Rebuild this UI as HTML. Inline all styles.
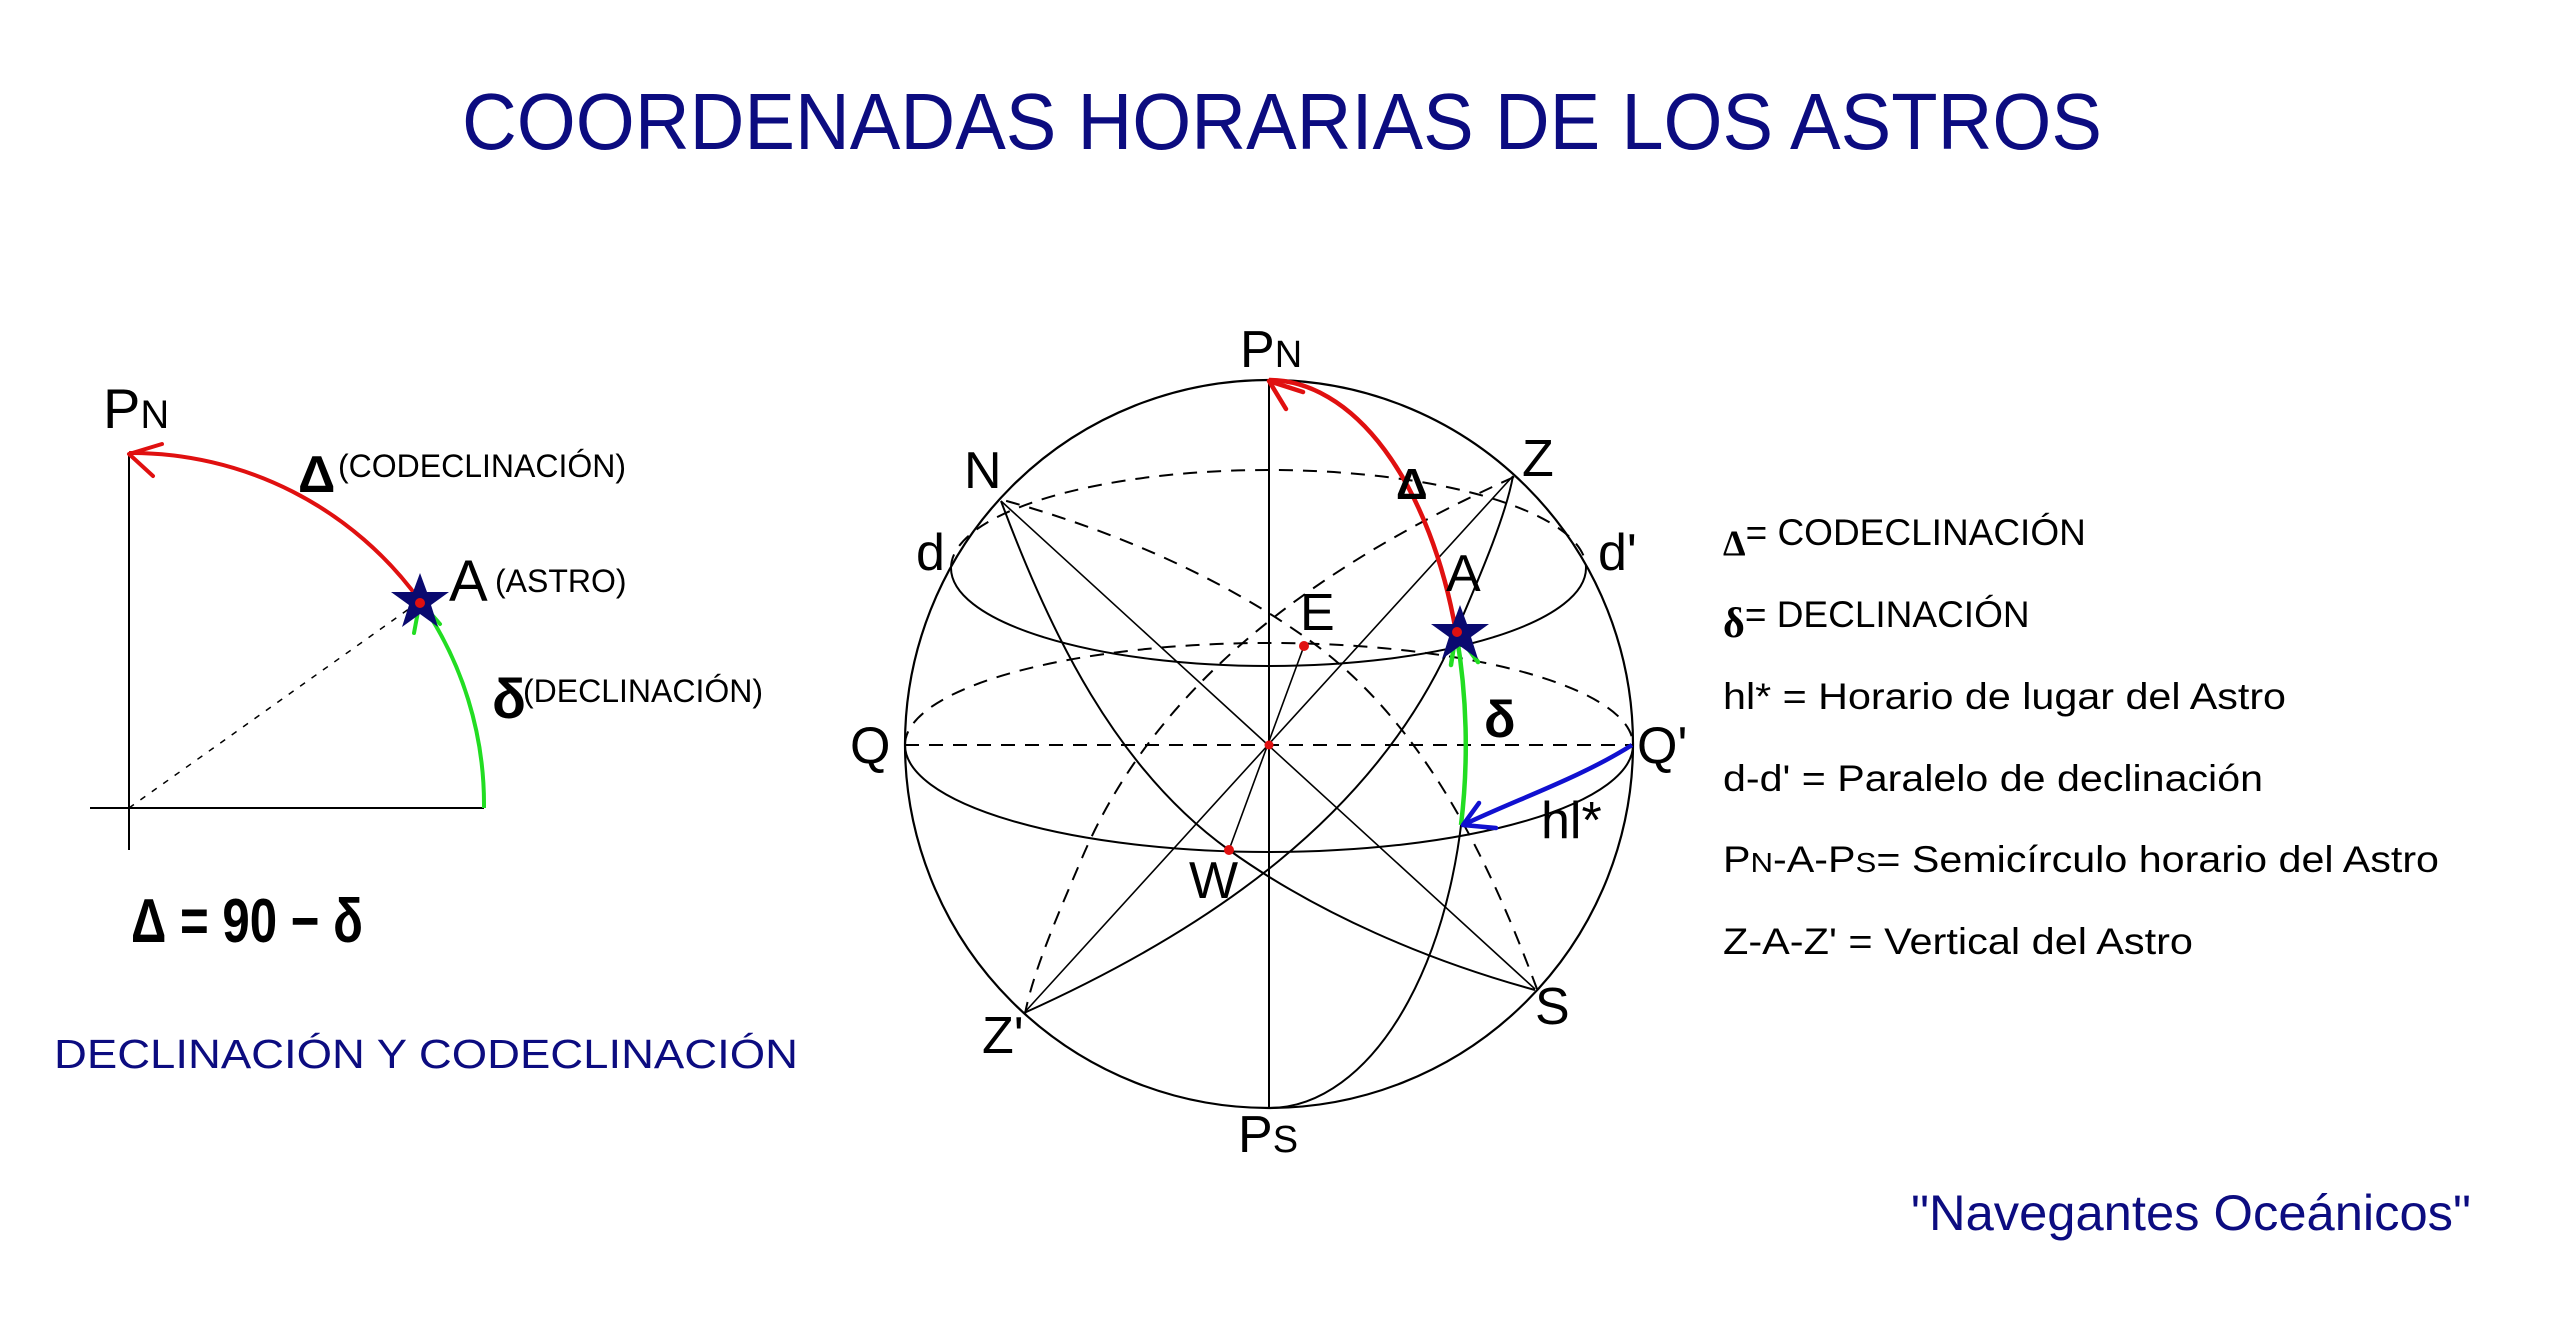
<!DOCTYPE html>
<html><head><meta charset="utf-8"><style>
html,body{margin:0;padding:0;background:#fff;}
svg{display:block;}
text{font-family:"Liberation Sans",sans-serif;}
</style></head><body>
<svg width="2560" height="1326" viewBox="0 0 2560 1326" xmlns="http://www.w3.org/2000/svg">
<rect width="2560" height="1326" fill="#fff"/>
<!-- Title -->
<text x="1282" y="149" font-size="80" fill="#0c0c80" text-anchor="middle" textLength="1640" lengthAdjust="spacingAndGlyphs">COORDENADAS HORARIAS DE LOS ASTROS</text>

<!-- LEFT DIAGRAM -->
<g stroke="#000" stroke-width="2" fill="none">
<line x1="129" y1="454" x2="129" y2="850"/>
<line x1="90" y1="808" x2="484" y2="808"/>
<line x1="129" y1="808" x2="420" y2="601" stroke-width="1.5" stroke-dasharray="6,8"/>
</g>
<path d="M129,453 A355,355 0 0 1 420,601" stroke="#e01010" stroke-width="4" fill="none"/>
<path d="M129,454 L162,444 M129,454 L153,476" stroke="#e01010" stroke-width="4" fill="none" stroke-linecap="round"/>
<path d="M484,808 A355,355 0 0 0 420,601" stroke="#22dd22" stroke-width="4" fill="none"/>
<path d="M420,601 L414,633 M420,601 L440,624" stroke="#22dd22" stroke-width="4" fill="none" stroke-linecap="round"/>
<polygon points="420,573 427,592 449,592 431,605 438,627 420,614 402,627 409,605 391,592 413,592" fill="#0a0a70"/>
<circle cx="420" cy="603" r="5" fill="#e01010"/>
<text x="103" y="428" font-size="56">P<tspan font-size="40">N</tspan></text>
<text x="298" y="492" font-size="52" font-weight="bold" font-family="Liberation Serif,serif">Δ</text>
<text x="338" y="477" font-size="32">(CODECLINACIÓN)</text>
<text x="449" y="601" font-size="58">A</text>
<text x="495" y="592" font-size="32">(ASTRO)</text>
<text x="492" y="718" font-size="56" font-weight="bold" font-family="Liberation Serif,serif">δ</text>
<text x="523" y="702" font-size="32">(DECLINACIÓN)</text>
<text x="131" y="942" font-size="62" font-weight="bold" font-family="Liberation Serif,serif" textLength="232" lengthAdjust="spacingAndGlyphs">Δ = 90 − δ</text>
<text x="54" y="1068" font-size="41" fill="#0c0c80" textLength="744" lengthAdjust="spacingAndGlyphs">DECLINACIÓN Y CODECLINACIÓN</text>

<!-- SPHERE -->
<g stroke="#000" fill="none" stroke-width="2">
<circle cx="1269" cy="744" r="364" stroke-width="2.2"/>
<line x1="1269" y1="380" x2="1269" y2="1108"/>
<line x1="1001" y1="501" x2="1535" y2="989" stroke-width="1.6"/>
<line x1="1513" y1="476" x2="1024" y2="1013" stroke-width="1.6"/>
<line x1="1304" y1="646" x2="1229" y2="850" stroke-width="1.6"/>
<!-- equator -->
<path d="M905,745 A364,107 0 0 0 1633,745"/>
<!-- parallel -->
<path d="M951,568 A317.5,98 0 0 0 1586,568"/>
<!-- horizon front -->
<path d="M1001,501 C1050,633 1116,769 1229,850 C1318,914 1429,961 1535,990"/>
<!-- vertical front -->
<path d="M1024,1013 C1206,931 1378,816 1456,632 C1475,587 1505,520 1513,476"/>
<!-- hour circle -->
<path d="M1269,380 A197,364 0 0 1 1269,1108"/>
</g>
<g stroke="#000" fill="none" stroke-width="2" stroke-dasharray="14,10">
<line x1="905" y1="745" x2="1633" y2="745"/>
<path d="M905,745 A364,102 0 0 1 1633,745"/>
<path d="M951,568 A317.5,98 0 0 1 1586,568"/>
<path d="M1537,989 C1488,857 1422,721 1309,640 C1220,576 1109,529 1003,500"/>
<path d="M1514,477 C1332,559 1160,674 1082,858 C1063,903 1033,970 1025,1014"/>
</g>
<!-- colored arcs -->
<path d="M1269,380 A197,364 0 0 1 1456,632" stroke="#e01010" stroke-width="4.5" fill="none"/>
<path d="M1269,381 L1303,392 M1269,381 L1286,409" stroke="#e01010" stroke-width="4.5" fill="none" stroke-linecap="round"/>
<path d="M1456,632 A197,364 0 0 1 1461,825" stroke="#22dd22" stroke-width="4.5" fill="none"/>
<path d="M1456,632 L1451,665 M1456,632 L1478,662" stroke="#22dd22" stroke-width="4.5" fill="none" stroke-linecap="round"/>
<path d="M1632,745 C1580,778 1515,800 1463,825" stroke="#1010d0" stroke-width="4.5" fill="none"/>
<path d="M1463,825 L1496,828 M1463,825 L1479,803" stroke="#1010d0" stroke-width="4.5" fill="none" stroke-linecap="round"/>
<polygon points="1460,605 1467,624 1489,624 1471,637 1478,659 1460,646 1442,659 1449,637 1431,624 1453,624" fill="#0a0a70"/>
<circle cx="1457" cy="632" r="5" fill="#e01010"/>
<circle cx="1304" cy="646" r="5" fill="#e01010"/>
<circle cx="1229" cy="850" r="5" fill="#e01010"/>
<circle cx="1269" cy="745" r="4.5" fill="#e01010"/>
<!-- sphere labels -->
<g font-size="52">
<text x="1240" y="367">P<tspan font-size="38">N</tspan></text>
<text x="964" y="488">N</text>
<text x="1522" y="476">Z</text>
<text x="916" y="570">d</text>
<text x="1598" y="570">d'</text>
<text x="1446" y="591">A</text>
<text x="1300" y="630">E</text>
<text x="850" y="763">Q</text>
<text x="1637" y="763">Q'</text>
<text x="1541" y="838">hl*</text>
<text x="1189" y="898">W</text>
<text x="982" y="1053">Z'</text>
<text x="1535" y="1024">S</text>
<text x="1238" y="1152">P<tspan font-size="38">S</tspan></text>
</g>
<text x="1396" y="499" font-size="44" font-weight="bold" font-family="Liberation Serif,serif">Δ</text>
<text x="1484" y="737" font-size="52" font-weight="bold" font-family="Liberation Serif,serif">δ</text>

<!-- legend -->
<g font-size="37">
<text x="1723" y="545"><tspan font-family="Liberation Serif,serif" font-weight="bold" font-size="36" dy="10">Δ</tspan><tspan dy="-10">= CODECLINACIÓN</tspan></text>
<text x="1723" y="627"><tspan font-family="Liberation Serif,serif" font-weight="bold" font-size="42" dy="10">δ</tspan><tspan dy="-10">= DECLINACIÓN</tspan></text>
<text x="1723" y="709" textLength="563" lengthAdjust="spacingAndGlyphs">hl* = Horario de lugar del Astro</text>
<text x="1723" y="791" textLength="540" lengthAdjust="spacingAndGlyphs">d-d' = Paralelo de declinación</text>
<text x="1723" y="872" textLength="716" lengthAdjust="spacingAndGlyphs">P<tspan font-size="28">N</tspan>-A-P<tspan font-size="28">S</tspan>= Semicírculo horario del Astro</text>
<text x="1723" y="954" textLength="470" lengthAdjust="spacingAndGlyphs">Z-A-Z' = Vertical del Astro</text>
</g>
<text x="1911" y="1230" font-size="50" fill="#0c0c80" textLength="560" lengthAdjust="spacingAndGlyphs">"Navegantes Oceánicos"</text>
</svg>
</body></html>
